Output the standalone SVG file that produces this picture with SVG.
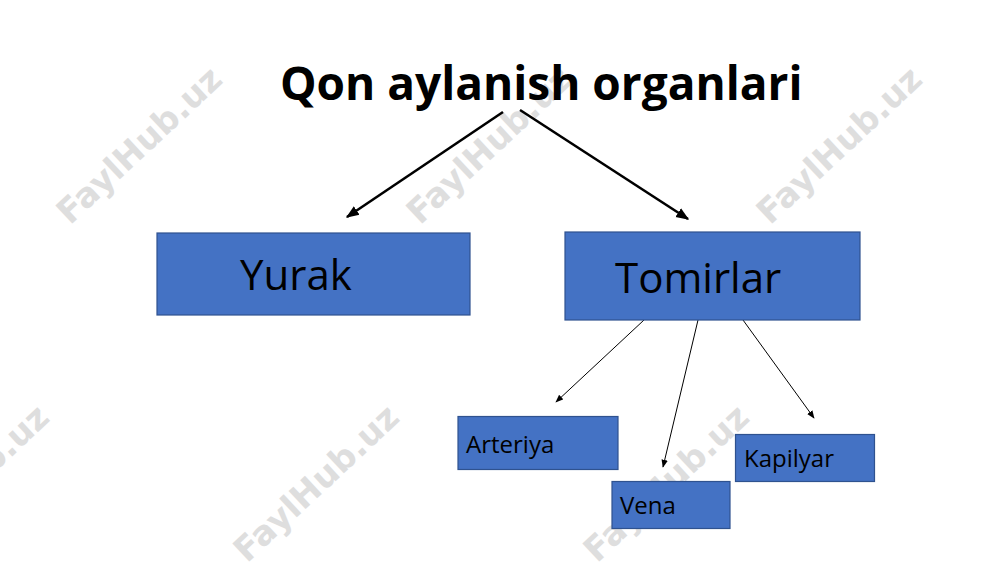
<svg xmlns="http://www.w3.org/2000/svg" width="1000" height="562" viewBox="0 0 1000 562">
  <style>
    .wm { font-family: "DejaVu Sans", "Liberation Sans", sans-serif; font-weight: bold; font-size: 34px; fill: #dedede; text-anchor: middle; }
    .box { fill: #4472C4; stroke: #2F528F; stroke-width: 1.2; }
    .big { font-family: "Open Sans", "Noto Sans", sans-serif; font-size: 42px; fill: #000; }
    .small { font-family: "Open Sans", "Noto Sans", sans-serif; font-size: 24px; fill: #000; }
    .title { font-family: "Open Sans", "Noto Sans", sans-serif; font-size: 46px; font-weight: bold; fill: #000; }
    .thick { stroke: #000; stroke-width: 2.6; fill: none; }
    .thin { stroke: #000; stroke-width: 1; fill: none; }
  </style>
  <defs>
    <marker id="ahBig" viewBox="0 0 10 10" refX="9" refY="5" markerWidth="13" markerHeight="13" markerUnits="userSpaceOnUse" orient="auto">
      <path d="M0,1 L10,5 L0,9 z" fill="#000"/>
    </marker>
    <marker id="ahSmall" viewBox="0 0 10 10" refX="9" refY="5" markerWidth="8" markerHeight="8" markerUnits="userSpaceOnUse" orient="auto">
      <path d="M0,1 L10,5 L0,9 z" fill="#000"/>
    </marker>
  </defs>
  <rect width="1000" height="562" fill="#fff"/>
  <g id="watermarks">
    <text class="wm" transform="translate(139,145) rotate(-43)" dy="12">FaylHub.uz</text>
    <text class="wm" transform="translate(489,145) rotate(-43)" dy="12">FaylHub.uz</text>
    <text class="wm" transform="translate(839,145) rotate(-43)" dy="12">FaylHub.uz</text>
    <text class="wm" transform="translate(-34,483) rotate(-43)" dy="12">FaylHub.uz</text>
    <text class="wm" transform="translate(316,483) rotate(-43)" dy="12">FaylHub.uz</text>
    <text class="wm" transform="translate(666,483) rotate(-43)" dy="12">FaylHub.uz</text>
  </g>
  <g id="title">
    <text class="title" x="280" y="100">Qon aylanish organlari</text>
  </g>
  <g id="connectors">
    <line class="thick" x1="503" y1="112" x2="347" y2="217" marker-end="url(#ahBig)"/>
    <line class="thick" x1="520" y1="110" x2="688" y2="219" marker-end="url(#ahBig)"/>
    <line class="thin" x1="644" y1="320" x2="556" y2="402" marker-end="url(#ahSmall)"/>
    <line class="thin" x1="698" y1="320" x2="663" y2="467" marker-end="url(#ahSmall)"/>
    <line class="thin" x1="743" y1="320" x2="814" y2="418" marker-end="url(#ahSmall)"/>
  </g>
  <g id="yurak">
    <rect class="box" x="157" y="233" width="313" height="82"/>
    <text class="big" x="240" y="290">Yurak</text>
  </g>
  <g id="tomirlar">
    <rect class="box" x="565" y="232" width="295" height="88"/>
    <text class="big" x="615" y="293">Tomirlar</text>
  </g>
  <g id="arteriya">
    <rect class="box" x="458" y="416.5" width="160" height="53"/>
    <text class="small" x="466" y="453">Arteriya</text>
  </g>
  <g id="vena">
    <rect class="box" x="612" y="481.5" width="118" height="47"/>
    <text class="small" x="620" y="514">Vena</text>
  </g>
  <g id="kapilyar">
    <rect class="box" x="735.5" y="434.5" width="139" height="47"/>
    <text class="small" x="744" y="467">Kapilyar</text>
  </g>
</svg>
